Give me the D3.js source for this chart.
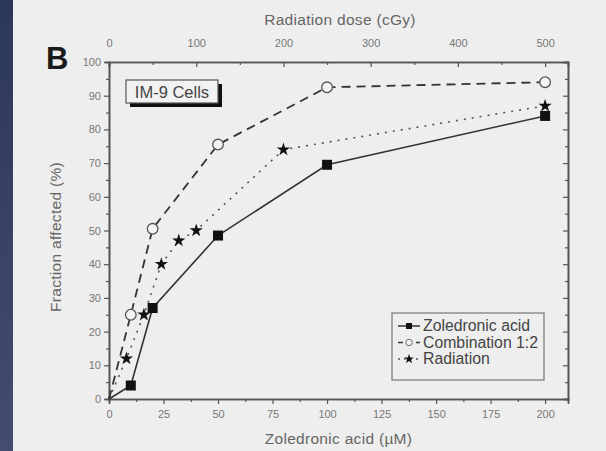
<!DOCTYPE html>
<html>
<head>
<meta charset="utf-8">
<script src="https://cdn.jsdelivr.net/npm/d3@7"></script>
<style>
  body { margin: 0; background: #eeeeee; }
  svg { display: block; font-family: Arial, "Liberation Sans", sans-serif; }
</style>
</head>
<body>
<svg id="chart"></svg>
<script>
const WIDTH = 606;
const HEIGHT = 451;

// zoledronic acid (uM) vs fraction affected
const zolX = [0, 10, 20, 50, 100, 200];
const zolY = [0, 4, 27, 48.5, 69.5, 84];
// combination 1:2 (same x as zoledronic)
const comboX = [0, 10, 20, 50, 100, 200];
const comboY = [0, 25, 50.5, 75.5, 92.5, 94];
// radiation dose (cGy), top axis
const radX = [0, 20, 40, 60, 80, 100, 200, 500];
const radY = [0, 12, 25, 40, 47, 50, 74, 87];

const bottomTicks = [0, 25, 50, 75, 100, 125, 150, 175, 200];
const topTicks = [0, 100, 200, 300, 400, 500];
const yTicks = [0, 10, 20, 30, 40, 50, 60, 70, 80, 90, 100];

const margin = { left: 109, right: 38, top: 62, bottom: 52 };

const svg = d3.select("#chart").attr("width", WIDTH).attr("height", HEIGHT);

// dark strip on the left
const grad = svg.append("defs").append("linearGradient")
    .attr("id", "strip").attr("x1", 0).attr("y1", 0).attr("x2", 0).attr("y2", 1);
grad.append("stop").attr("offset", "0%").attr("stop-color", "#2c3858");
grad.append("stop").attr("offset", "100%").attr("stop-color", "#444c70");
svg.append("rect").attr("x", 0).attr("y", 0).attr("width", 13).attr("height", HEIGHT)
    .attr("fill", "url(#strip)");

const x = d3.scaleLinear().domain([0, 210.5]).range([margin.left, WIDTH - margin.right]);
const xTop = d3.scaleLinear().domain([0, 526.25]).range([margin.left, WIDTH - margin.right]);
const y = d3.scaleLinear().domain([0, 100]).range([HEIGHT - margin.bottom, margin.top]);

const axisColor = "#555";
const labelColor = "#777";
const titleColor = "#666";

// bottom axis
const gB = svg.append("g").attr("transform", `translate(0,${y(0)})`)
    .call(d3.axisBottom(x).tickValues(bottomTicks).tickSize(5).tickPadding(6));
gB.append("g").call(d3.axisBottom(x).tickValues(d3.range(12.5, 200, 25)).tickSize(3).tickFormat(""));

// top axis (ticks inward)
const gT = svg.append("g").attr("transform", `translate(0,${y(100)})`)
    .call(d3.axisTop(xTop).tickValues(topTicks).tickSize(-5).tickPadding(15));
gT.append("g").call(d3.axisTop(xTop).tickValues(d3.range(50, 500, 100)).tickSize(-3).tickFormat(""));

// left axis
const gL = svg.append("g").attr("transform", `translate(${margin.left},0)`)
    .call(d3.axisLeft(y).tickValues(yTicks).tickSize(5).tickPadding(3));
gL.append("g").call(d3.axisLeft(y).tickValues(d3.range(5, 100, 10)).tickSize(3).tickFormat(""));

// right axis (ticks inward)
const gR = svg.append("g").attr("transform", `translate(${WIDTH - margin.right},0)`)
    .call(d3.axisRight(y).tickValues(yTicks).tickSize(-5).tickFormat(""));
gR.append("g").call(d3.axisRight(y).tickValues(d3.range(5, 100, 10)).tickSize(-3).tickFormat(""));

svg.selectAll(".domain").attr("stroke", axisColor).attr("stroke-width", 1.6);
svg.selectAll(".tick line").attr("stroke", axisColor).attr("stroke-width", 1.2);
svg.selectAll(".tick text").attr("fill", labelColor).attr("font-size", 11);

// axis titles
svg.append("text").attr("x", (margin.left + WIDTH - margin.right) / 2).attr("y", 444)
    .attr("text-anchor", "middle").attr("font-size", 15.5).attr("fill", titleColor)
    .attr("letter-spacing", 0.3).text("Zoledronic acid (µM)");
svg.append("text").attr("x", 340).attr("y", 25)
    .attr("text-anchor", "middle").attr("font-size", 15.5).attr("fill", titleColor)
    .attr("letter-spacing", 0.3).text("Radiation dose (cGy)");
svg.append("text")
    .attr("transform", `translate(61,237) rotate(-90)`)
    .attr("text-anchor", "middle").attr("font-size", 15.5).attr("fill", titleColor)
    .attr("letter-spacing", 0.3).text("Fraction affected (%)");

// panel letter
svg.append("text").attr("x", 46).attr("y", 69).attr("font-size", 31).attr("font-weight", "bold")
    .attr("fill", "#1a1a1a").text("B");

// series
const lineColor = "#333";
const zol = zolX.map((v, i) => [x(v), y(zolY[i])]);
const combo = comboX.map((v, i) => [x(v), y(comboY[i])]);
const rad = radX.map((v, i) => [xTop(v), y(radY[i])]);

const line = d3.line();
svg.append("path").attr("d", line(rad)).attr("fill", "none").attr("stroke", "#555")
    .attr("stroke-width", 1.6).attr("stroke-dasharray", "2,6");
svg.append("path").attr("d", line(combo)).attr("fill", "none").attr("stroke", lineColor)
    .attr("stroke-width", 1.8).attr("stroke-dasharray", "9,6");
svg.append("path").attr("d", line(zol)).attr("fill", "none").attr("stroke", lineColor)
    .attr("stroke-width", 1.6);

const star = d3.symbol().type(d3.symbolStar).size(55);
svg.selectAll(".rad").data(rad.slice(1)).join("path")
    .attr("transform", d => `translate(${d[0]},${d[1]})`)
    .attr("d", star).attr("fill", "#111");

svg.selectAll(".combo").data(combo.slice(1)).join("circle")
    .attr("cx", d => d[0]).attr("cy", d => d[1]).attr("r", 5.3)
    .attr("fill", "#f4f4f4").attr("stroke", "#555").attr("stroke-width", 1.3);

svg.selectAll(".zol").data(zol.slice(1)).join("rect")
    .attr("x", d => d[0] - 5).attr("y", d => d[1] - 5).attr("width", 10).attr("height", 10)
    .attr("fill", "#111");

// IM-9 Cells label box with shadow
svg.append("rect").attr("x", 130).attr("y", 84).attr("width", 92).attr("height", 23).attr("fill", "#111");
svg.append("rect").attr("x", 126).attr("y", 80).attr("width", 92).attr("height", 23)
    .attr("fill", "#f2f2f2").attr("stroke", "#555").attr("stroke-width", 1.2);
svg.append("text").attr("x", 172).attr("y", 97.5).attr("text-anchor", "middle")
    .attr("font-size", 16.5).attr("fill", "#444").text("IM-9 Cells");

// legend
const legendItems = ["Zoledronic acid", "Combination 1:2", "Radiation"];
const lg = svg.append("g");
lg.append("rect").attr("x", 392).attr("y", 313).attr("width", 152).attr("height", 67)
    .attr("fill", "none").attr("stroke", "#777").attr("stroke-width", 1.2);
legendItems.forEach((name, i) => {
    const yy = 326 + i * 16.5;
    const l = lg.append("line").attr("x1", 398).attr("x2", 420).attr("y1", yy).attr("y2", yy)
        .attr("stroke", lineColor).attr("stroke-width", 1.5);
    if (i === 1) l.attr("stroke-dasharray", "5,4");
    if (i === 2) l.attr("stroke-dasharray", "2,4").attr("stroke", "#555");
    if (i === 0) lg.append("rect").attr("x", 406).attr("y", yy - 3).attr("width", 6).attr("height", 6).attr("fill", "#111");
    if (i === 1) lg.append("circle").attr("cx", 409).attr("cy", yy).attr("r", 3.2)
        .attr("fill", "#f4f4f4").attr("stroke", "#666");
    if (i === 2) lg.append("path").attr("transform", `translate(409,${yy})`)
        .attr("d", d3.symbol().type(d3.symbolStar).size(30)).attr("fill", "#111");
    lg.append("text").attr("x", 423).attr("y", yy + 5).attr("font-size", 15.8)
        .attr("fill", "#444").text(name);
});
</script>
</body>
</html>
